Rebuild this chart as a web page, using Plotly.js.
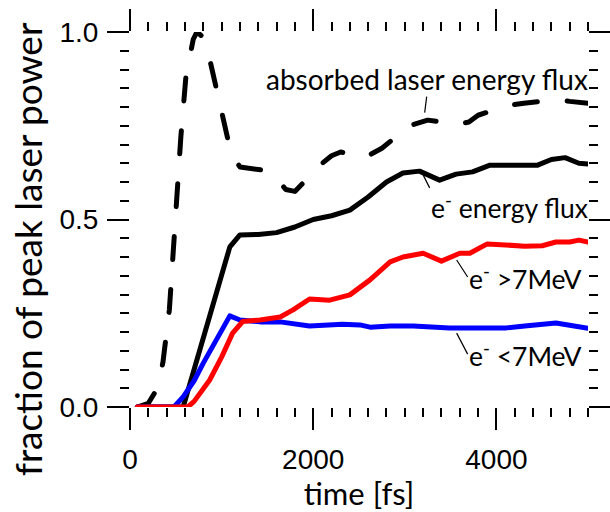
<!DOCTYPE html>
<html>
<head>
<meta charset="utf-8">
<script src="https://cdn.plot.ly/plotly-3.0.1.min.js"></script>
<style>
  html, body { margin: 0; padding: 0; background: #fff; }
  #chart { width: 610px; height: 512px; }
  .scatterlayer .js-line { stroke-linecap: round; stroke-linejoin: round; }
</style>
</head>
<body>
<div id="chart"></div>
<script>
// ---- data (time in fs, value = fraction of peak laser power) ----
const absorbedT = [80, 200, 300, 360, 430, 470, 510, 555, 610, 690, 730, 780, 840, 905, 970, 1030, 1100, 1200, 1350, 1500, 1600, 1700, 1800, 1900, 2000, 2100, 2200, 2300, 2400, 2500, 2600, 2750, 2850, 2980, 3100, 3250, 3400, 3550, 3700, 3800, 3950, 4100, 4300, 4500, 4650, 4800, 5000];
const absorbedV = [0, 0.01, 0.05, 0.12, 0.26, 0.41, 0.56, 0.72, 0.88, 0.98, 1.0, 0.99, 0.96, 0.89, 0.82, 0.75, 0.68, 0.64, 0.635, 0.63, 0.61, 0.58, 0.575, 0.60, 0.63, 0.65, 0.67, 0.68, 0.675, 0.665, 0.67, 0.69, 0.71, 0.745, 0.755, 0.765, 0.76, 0.752, 0.76, 0.778, 0.79, 0.803, 0.81, 0.815, 0.82, 0.815, 0.81];

const eFluxT = [80, 580, 700, 850, 1000, 1090, 1200, 1400, 1600, 1800, 2000, 2200, 2400, 2600, 2800, 2980, 3160, 3380, 3560, 3740, 3930, 4100, 4300, 4450, 4600, 4750, 4900, 5000];
const eFluxV = [0, 0, 0.10, 0.225, 0.35, 0.427, 0.459, 0.46, 0.465, 0.48, 0.50, 0.51, 0.525, 0.56, 0.60, 0.624, 0.629, 0.605, 0.621, 0.627, 0.645, 0.645, 0.643, 0.645, 0.66, 0.665, 0.65, 0.648];

const lowT = [80, 480, 580, 700, 800, 950, 1090, 1200, 1420, 1640, 1960, 2320, 2510, 2620, 2840, 3090, 3490, 3930, 4110, 4310, 4500, 4650, 4800, 5000];
const lowV = [0, 0, 0.027, 0.07, 0.117, 0.18, 0.243, 0.232, 0.227, 0.227, 0.216, 0.221, 0.219, 0.213, 0.216, 0.216, 0.211, 0.211, 0.211, 0.216, 0.22, 0.224, 0.218, 0.21];

const highT = [80, 630, 700, 780, 870, 1000, 1120, 1230, 1420, 1640, 1780, 1960, 2180, 2400, 2620, 2840, 2980, 3200, 3400, 3600, 3710, 3900, 4110, 4310, 4500, 4650, 4800, 4900, 5000];
const highV = [0, 0, 0.015, 0.04, 0.072, 0.133, 0.197, 0.228, 0.232, 0.24, 0.259, 0.288, 0.285, 0.299, 0.339, 0.387, 0.40, 0.41, 0.389, 0.41, 0.41, 0.435, 0.432, 0.429, 0.43, 0.44, 0.44, 0.445, 0.44];

const xTickVals = [0, 2000, 4000];
const yTickVals = [0, 0.5, 1.0];
const labels = {
  absorbed: 'absorbed laser energy flux',
  eFlux: 'e<sup>-</sup> energy flux',
  high: 'e<sup>-</sup> >7MeV',
  low: 'e<sup>-</sup> <7MeV',
  xTitle: 'time [fs]',
  yTitle: 'fraction of peak laser power'
};

const traces = [
  {x: absorbedT, y: absorbedV, mode: 'lines', line: {color: '#000', width: 5, dash: '23px,30px'}, hoverinfo: 'skip'},
  {x: eFluxT, y: eFluxV, mode: 'lines', line: {color: '#000', width: 5}, hoverinfo: 'skip'},
  {x: lowT, y: lowV, mode: 'lines', line: {color: '#0000ff', width: 5}, hoverinfo: 'skip'},
  {x: highT, y: highV, mode: 'lines', line: {color: '#ff0000', width: 5}, hoverinfo: 'skip'}
];

const tickFont = {family: 'Liberation Sans, Arial, sans-serif', size: 28, color: '#000'};
const annFont = {family: 'Lato, sans-serif', size: 28, color: '#000'};
const annFontSup = {family: 'Lato, sans-serif', size: 26.5, color: '#000'};

const baseX = {range: [0, 5000], showgrid: false, zeroline: false, showline: false, fixedrange: true};
const baseY = {range: [0, 1], showgrid: false, zeroline: false, showline: false, fixedrange: true};

const layout = {
  width: 610, height: 512,
  margin: {l: 130, r: 22, t: 32, b: 105},
  paper_bgcolor: '#fff', plot_bgcolor: '#fff',
  showlegend: false,
  font: {family: 'Lato, sans-serif', color: '#000'},
  xaxis: Object.assign({}, baseX, {
    tickmode: 'array', tickvals: xTickVals, ticktext: xTickVals.map(String),
    ticks: 'outside', ticklen: 22, tickwidth: 2, tickcolor: '#000', mirror: 'ticks',
    tickfont: tickFont, ticklabelstandoff: 5,
    minor: {ticks: 'outside', dtick: 200, tick0: 0, ticklen: 9, tickwidth: 2, tickcolor: '#000', showgrid: false},
    title: {text: labels.xTitle, font: {family: 'Lato, sans-serif', size: 31, color: '#000'}, standoff: 12}
  }),
  xaxis2: Object.assign({}, baseX, {
    overlaying: 'x', anchor: 'y', side: 'bottom',
    dtick: 1000, tick0: 0, ticks: 'outside', ticklen: 14, tickwidth: 2, tickcolor: '#000',
    mirror: 'ticks', showticklabels: false
  }),
  yaxis: Object.assign({}, baseY, {
    tickmode: 'array', tickvals: yTickVals, ticktext: yTickVals.map(v => v.toFixed(1)),
    ticks: 'outside', ticklen: 22, tickwidth: 2, tickcolor: '#000', mirror: 'ticks',
    tickfont: tickFont, ticklabelstandoff: 3,
    minor: {ticks: 'outside', dtick: 0.05, tick0: 0, ticklen: 9, tickwidth: 2, tickcolor: '#000', showgrid: false}
  }),
  yaxis2: Object.assign({}, baseY, {
    overlaying: 'y', anchor: 'x', side: 'left',
    dtick: 0.1, tick0: 0, ticks: 'outside', ticklen: 15, tickwidth: 2, tickcolor: '#000',
    mirror: 'ticks', showticklabels: false
  }),
  annotations: [
    {xref: 'x', yref: 'y', x: 3217, y: 0.785, text: labels.absorbed, font: annFont,
     showarrow: true, arrowhead: 0, arrowwidth: 1.2, arrowcolor: '#000', standoff: 0,
     xanchor: 'center', yanchor: 'bottom', ax: 2, ay: -16, borderpad: 0},
    {xref: 'x', yref: 'y', x: 3184, y: 0.627, text: labels.eFlux, font: annFontSup,
     showarrow: true, arrowhead: 0, arrowwidth: 1.2, arrowcolor: '#000', standoff: 0,
     xanchor: 'left', yanchor: 'top', ax: 8, ay: 16, borderpad: 0},
    {xref: 'x', yref: 'y', x: 3566, y: 0.392, text: labels.high, font: annFontSup,
     showarrow: true, arrowhead: 0, arrowwidth: 1.2, arrowcolor: '#000', standoff: 0,
     xanchor: 'left', yanchor: 'middle', ax: 11, ay: 17, borderpad: 0},
    {xref: 'x', yref: 'y', x: 3566, y: 0.197, text: labels.low, font: annFontSup,
     showarrow: true, arrowhead: 0, arrowwidth: 1.2, arrowcolor: '#000', standoff: 0,
     xanchor: 'left', yanchor: 'middle', ax: 11, ay: 21, borderpad: 0},
    {xref: 'paper', yref: 'paper', x: -0.225, y: 0.421, text: labels.yTitle, textangle: -90,
     showarrow: false, xanchor: 'center', yanchor: 'middle',
     font: {family: 'Lato, sans-serif', size: 37, color: '#000'}}
  ]
};

Plotly.newPlot('chart', traces, layout, {staticPlot: true, displayModeBar: false});
</script>
</body>
</html>
